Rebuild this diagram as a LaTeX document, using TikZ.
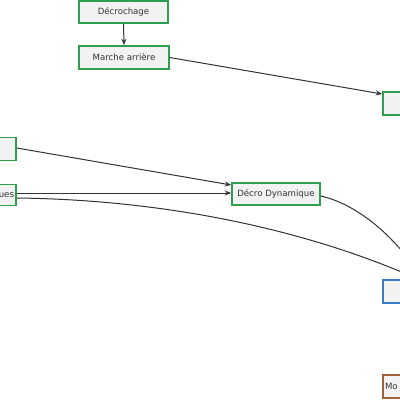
\documentclass[tikz,border=0pt]{standalone}
\usepackage{fontspec}
\setmainfont{DejaVu Sans}
\usetikzlibrary{arrows.meta}
\definecolor{boxfill}{HTML}{F2F2F2}
\definecolor{gborder}{HTML}{2E9E4F}
\definecolor{bborder}{HTML}{3A7CC8}
\definecolor{brborder}{HTML}{A0623A}
\definecolor{edgecol}{HTML}{333333}
\begin{document}
\begin{tikzpicture}[x=1pt,y=-1pt,
  gbox/.style={draw=gborder,fill=boxfill,line width=1.6pt,minimum height=22pt,inner sep=0pt,font=\fontsize{8.6}{10}\selectfont,text=black!80},
  bbox/.style={gbox,draw=bborder},
  brbox/.style={gbox,draw=brborder},
  conn/.style={draw=edgecol,line width=1pt},
  arr/.style={conn,-{Stealth[length=6.5pt,width=5pt]}}
]
\useasboundingbox (0,0) rectangle (400,400);
\clip (0,0) rectangle (400,400);
\node[gbox,minimum width=89pt] (decro) at (123.5,12) {Décrochage};
\node[gbox,minimum width=90pt,minimum height=23pt] (marche) at (124,57.5) {Marche arrière};
\node[gbox,minimum width=60pt,minimum height=23pt] (rtop) at (413,103.5) {};
\node[gbox,minimum width=60pt,minimum height=23pt] (lbox) at (-14,149) {};
\node[gbox,minimum width=60pt,minimum height=21pt,text width=56pt,align=right] (ques) at (-14,195) {ues};
\node[gbox,minimum width=88pt] (dyn) at (276,194) {Décro Dynamique};
\node[bbox,minimum width=60pt,minimum height=23pt] (blue) at (413,291.5) {};
\node[brbox,minimum width=60pt,minimum height=23pt,text width=56pt,align=left] (brown) at (413,386.5) {Mo};
\coordinate (offA) at (420,280);
\coordinate (offB) at (430,290);
\draw[arr] (decro.south) -- (marche.north);
\draw[arr] (marche.east) -- ([yshift=9.5pt]rtop.west);
\draw[arr] ([yshift=1pt]lbox.east) -- ([yshift=9pt]dyn.west);
\draw[arr] ([yshift=2pt]ques.east) -- ([yshift=1pt]dyn.west);
\draw[conn] ([yshift=-3pt]ques.east) .. controls (180,200) and (320,235) .. (offA);
\draw[conn] ([yshift=-2pt]dyn.east) .. controls (360,205) and (400,240) .. (offB);
\end{tikzpicture}
\end{document}
